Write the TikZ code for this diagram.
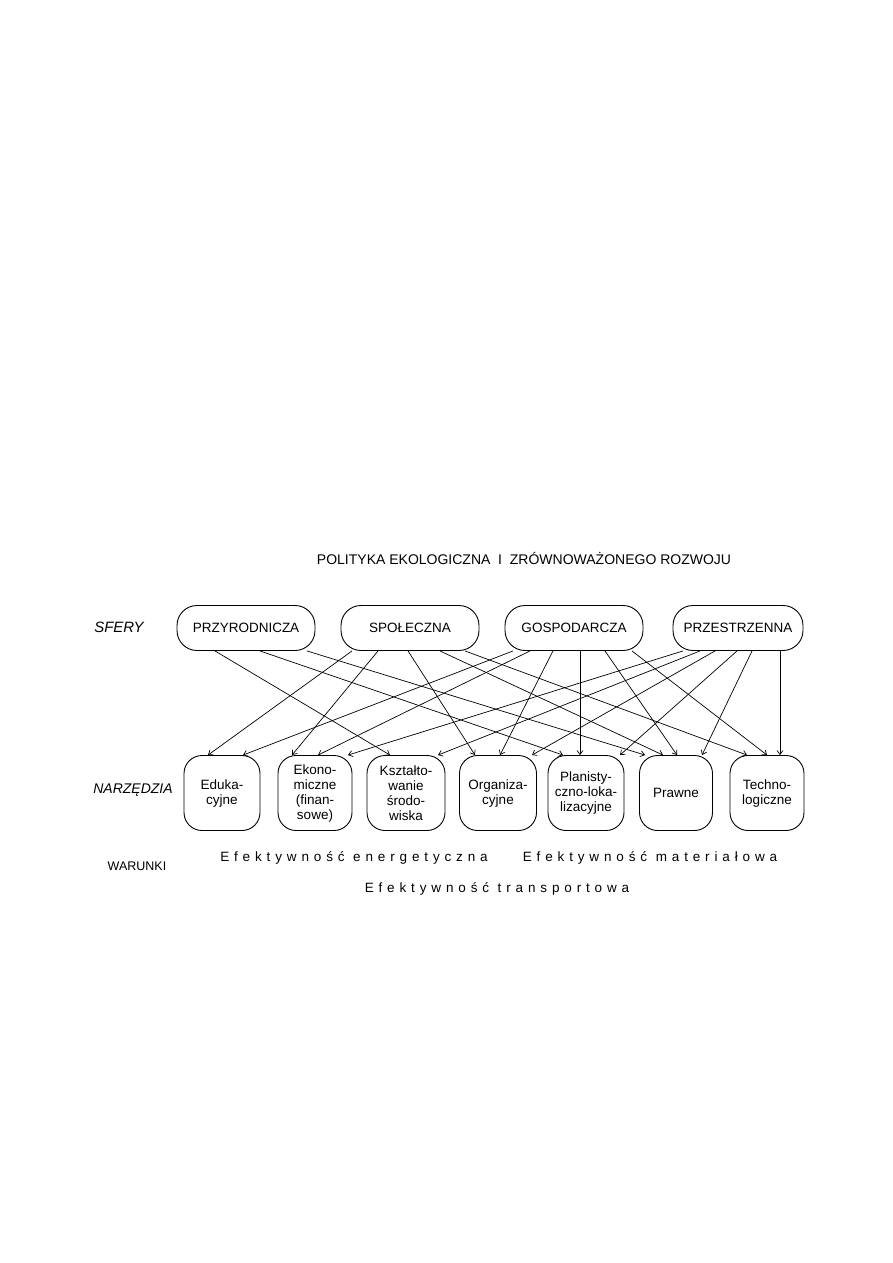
\documentclass[tikz,border=0pt]{standalone}
\usepackage{fontspec}
\setmainfont{Liberation Sans}
\newfontfamily\spaced[LetterSpace=36]{Liberation Sans}
\usepackage{tikz}
\usetikzlibrary{arrows.meta, positioning, calc}

\begin{document}
\begin{tikzpicture}[x=1pt, y=-1pt,
    sf/.style={draw, line width=0.9pt, rounded corners=20pt, minimum width=138pt,
        minimum height=45pt, inner sep=0pt, font=\fontsize{13.5}{16}\selectfont},
    nz/.style={draw, line width=0.9pt, rounded corners=18pt, minimum width=76pt,
        minimum height=75pt, inner sep=0pt, align=center, font=\fontsize{13.5}{15}\selectfont},
    lbl/.style={font=\fontsize{14}{16}\selectfont\itshape},
    ef/.style={font=\fontsize{13.5}{15}\selectfont\spaced},
    arr/.style={line width=0.7pt, -{Straight Barb[length=4pt, width=6pt]}}]
    \fill[white] (0,0) rectangle (893,1263);
    \node[font=\fontsize{14}{16}\selectfont] (T) at (524,558) {POLITYKA EKOLOGICZNA \ I \ ZRÓWNOWAŻONEGO ROZWOJU};
    % sfery
    \node[lbl, font=\fontsize{15}{16}\selectfont\itshape] (LS) at (119,627) {SFERY};
    \node[sf] (S1) at (246,628) {PRZYRODNICZA};
    \node[sf] (S2) at (410,628) {SPOŁECZNA};
    \node[sf] (S3) at (574,628) {GOSPODARCZA};
    \node[sf, minimum width=130pt] (S4) at (738,628) {PRZESTRZENNA};
    % narzedzia
    \node[lbl] (LN) at (133,790) {NARZĘDZIA};
    \node[nz] (N1) at (222,793) {Eduka-\\cyjne};
    \node[nz, minimum width=74pt] (N2) at (315,793) {Ekono-\\miczne\\(finan-\\sowe)};
    \node[nz, minimum width=78pt] (N3) at (406,793) {Kształto-\\wanie\\środo-\\wiska};
    \node[nz, minimum width=77pt] (N4) at (498,793) {Organiza-\\cyjne};
    \node[nz] (N5) at (586,793) {Planisty-\\czno-loka-\\lizacyjne};
    \node[nz, minimum width=73pt] (N6) at (676,793) {Prawne};
    \node[nz, minimum width=74pt] (N7) at (767,793) {Techno-\\logiczne};
    \foreach \a/\i/\b/\j in {S1/-31/N3/-16, S1/14/N5/-23, S1/61/N6/-31,
        S2/-58/N1/-14, S2/-32/N2/-23, S2/-2/N4/-23, S2/30/N6/-13, S2/55/N7/-20,
        S3/-61/N1/21, S3/-44/N2/3, S3/-21/N4/2, S3/6/N5/-6, S3/31/N6/1, S3/58/N7/0,
        S4/-55/N2/33, S4/-38/N3/32, S4/-23/N4/34, S4/-1/N5/34, S4/14/N6/26, S4/42/N7/13} {
        \draw[arr] ([xshift=\i pt]\a.south) -- ([xshift=\j pt]\b.north);
    }
    % warunki
    \node[font=\fontsize{12.5}{15}\selectfont] (LW) at (137,866) {WARUNKI};
    \node[ef] (E1) at (354,858) {Efektywność energetyczna};
    \node[ef] (E2) at (650,858) {Efektywność materiałowa};
    \node[ef] (E3) at (497,889) {Efektywność transportowa};
\end{tikzpicture}
\end{document}
